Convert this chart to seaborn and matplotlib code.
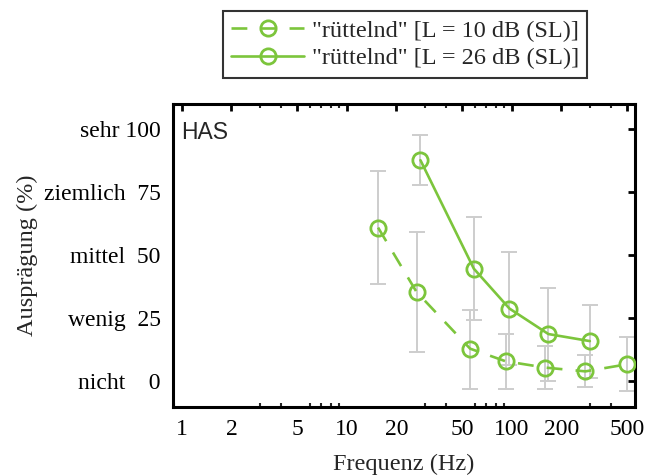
import matplotlib
matplotlib.use("Agg")
import matplotlib.pyplot as plt
import matplotlib.ticker as mticker
import numpy as np
import pandas as pd
import seaborn as sns

# ---- data ----
freq_10 = [15.5, 26.5, 56, 92, 160, 280, 500]
mean_10 = [61, 35.5, 13, 8, 5.5, 4, 6.8]
lo_10 = [38.7, 11.8, -2.8, -3.0, -3.0, -2.2, -3.6]
hi_10 = [83.3, 59.4, 28.5, 18.8, 13.9, 10.3, 17.5]

freq_26 = [28, 59, 97, 167, 298]
mean_26 = [87.7, 44.7, 28.9, 18.8, 16.0]
lo_26 = [77.7, 24.5, 6.4, 0.0, 1.3]
hi_26 = [97.7, 65.0, 51.4, 37.1, 30.5]

label_10 = '"rüttelnd" [L = 10 dB (SL)]'
label_26 = '"rüttelnd" [L = 26 dB (SL)]'

xticks = [1, 2, 5, 10, 20, 50, 100, 200, 500]
yticks = [0, 25, 50, 75, 100]
ytick_labels = ["nicht    0", "wenig  25", "mittel  50", "ziemlich  75", "sehr 100"]

green = "#7cc53c"
grey = "#cdcdcd"

sns.set_theme(style="white")
plt.rcParams["font.family"] = ["Liberation Serif", "DejaVu Serif"]

fig = plt.figure(figsize=(6.48, 4.76), dpi=100)
ax = fig.add_axes([0.267, 0.1456, 0.713, 0.636])

df10 = pd.DataFrame({"f": freq_10, "y": mean_10})
df26 = pd.DataFrame({"f": freq_26, "y": mean_26})

# error bars
for f, m, lo, hi in [(freq_10, mean_10, lo_10, hi_10), (freq_26, mean_26, lo_26, hi_26)]:
    m = np.array(m); lo = np.array(lo); hi = np.array(hi)
    ax.errorbar(f, m, yerr=[m - lo, hi - m], fmt="none", ecolor=grey,
                elinewidth=1.4, capsize=5.5, capthick=1.4, zorder=1)

common = dict(marker="o", markersize=11, markerfacecolor="none",
              markeredgecolor=green, markeredgewidth=2.0, color=green,
              linewidth=1.9, zorder=3)
sns.lineplot(data=df10, x="f", y="y", ax=ax, linestyle=(0, (6, 5)),
             label=label_10, **common)
sns.lineplot(data=df26, x="f", y="y", ax=ax, linestyle="-",
             label=label_26, **common)

ax.set_xscale("log")
ax.set_xlim(0.885, 560)
ax.set_ylim(-10, 110)
ax.set_xticks(xticks)
ax.xaxis.set_major_formatter(mticker.FixedFormatter([str(t) for t in xticks]))
ax.xaxis.set_minor_locator(mticker.LogLocator(base=10, subs=np.arange(2, 10)))
ax.xaxis.set_minor_formatter(mticker.NullFormatter())
ax.set_yticks(yticks)
ax.set_yticklabels(ytick_labels)

ax.tick_params(axis="both", which="major", direction="in", length=5, width=2,
               top=True, right=True, labelsize=17, colors="black")
ax.tick_params(axis="x", which="minor", direction="in", length=3, width=1.5,
               top=True, bottom=True)
ax.tick_params(axis="y", which="major", pad=9)
ax.tick_params(axis="x", which="major", pad=9)
for s in ax.spines.values():
    s.set_linewidth(2.2)
    s.set_color("black")

ax.set_xlabel("Frequenz (Hz)", fontsize=17.5, labelpad=10)
ax.set_ylabel("Ausprägung (%)", fontsize=17.5, labelpad=4)

ax.text(0.018, 0.945, "HAS", transform=ax.transAxes, ha="left", va="top",
        fontsize=16.5, family=["Liberation Sans", "DejaVu Sans"])

handles, labels = ax.get_legend_handles_labels()
ax.get_legend().remove()
leg = fig.legend(handles, labels, loc="upper center", bbox_to_anchor=(0.625, 0.976),
                 fontsize=17.5, frameon=True, fancybox=False, framealpha=1,
                 edgecolor="#333333", handlelength=3.0, handletextpad=0.3,
                 borderpad=0.35, labelspacing=0.22, borderaxespad=0)
leg.get_frame().set_linewidth(1.5)

fig.savefig("out.png", dpi=100)
